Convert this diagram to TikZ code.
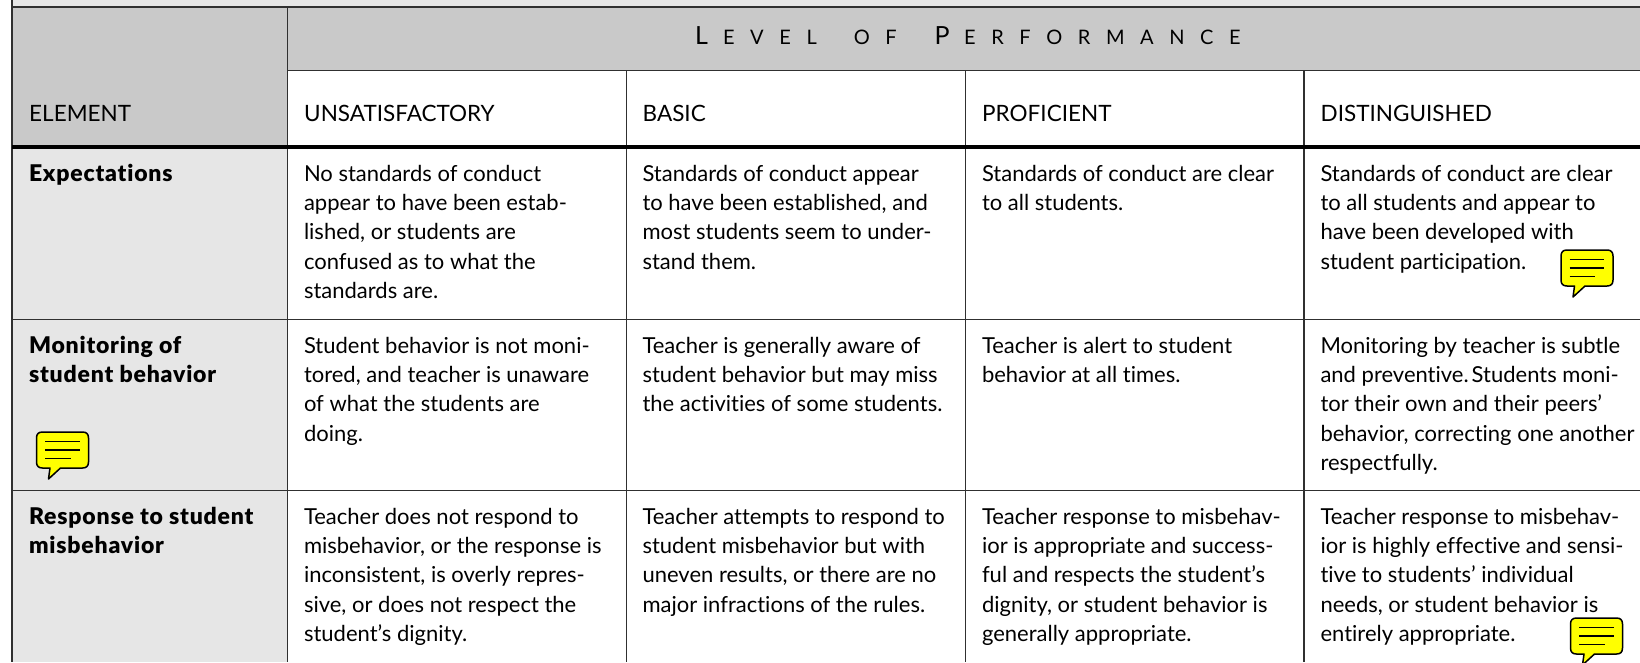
\documentclass[tikz,border=0pt]{standalone}
\usepackage{fontspec}
\setmainfont{Lato}[Ligatures=NoCommon]
\newfontfamily\elemfont{Lato Black}[Ligatures=NoCommon,LetterSpace=3.5]
\newfontfamily\titlefont[LetterSpace=78]{Lato}
\definecolor{hdr}{HTML}{C9C9C9}
\definecolor{elm}{HTML}{E6E6E6}
\definecolor{rule}{HTML}{303030}
\definecolor{bub}{HTML}{FFFF00}
\newcommand{\tbig}{\fontsize{25}{25}\selectfont}
\newcommand{\tsmall}{\fontsize{20}{25}\selectfont}
\newcommand{\fs}{\rule{0pt}{20pt}}
\tikzset{
  cellfont/.style={font=\fontsize{22}{29.4}\selectfont},
  celltext/.style={cellfont,anchor=north west,inner sep=0pt,outer sep=0pt,align=left},
  elemtext/.style={celltext,font=\elemfont\fontsize{23}{29.4}\selectfont},
  headtext/.style={font=\fontsize{22.5}{25}\selectfont,anchor=base west,inner sep=0pt},
  gridline/.style={draw=rule,line width=1.6pt},
  heavyline/.style={draw=black,line width=4pt},
  bubshape/.style={draw=black,fill=bub,line width=1.5pt,line join=round},
  bubline/.style={draw=black,line width=1.5pt},
  pics/speech/.style={code={
    \path[bubshape] (6,0) -- (46,0) .. controls (50,0) and (52,2) .. (52,6)
      -- (52,30) .. controls (52,34) and (50,36) .. (46,36)
      -- (24,36) -- (12,47) -- (13.5,36) -- (6,36)
      .. controls (2,36) and (0,34) .. (0,30) -- (0,6) .. controls (0,2) and (2,0) .. (6,0) -- cycle;
    \path[bubline] (8.5,9.5) -- (43,9.5) (8.5,18) -- (43,18) (8.5,26.5) -- (34,26.5);
  }}
}
\begin{document}
\begin{tikzpicture}[x=1pt,y=-1pt]
\useasboundingbox (0,0) rectangle (1640,662);
\begin{scope}
\clip (0,0) rectangle (1640,662);
% grid coordinates
\coordinate (TL) at (12,7);
\coordinate (TR) at (1640,7);
\coordinate (BL) at (12,662);
\coordinate (A) at (287.5,7);
\coordinate (H) at (287.5,70.5);
\coordinate (HR) at (1640,70.5);
\coordinate (E) at (12,147);
\coordinate (ER) at (1640,147);
\coordinate (R1) at (12,319.5);
\coordinate (R1R) at (1640,319.5);
\coordinate (R2) at (12,490.5);
\coordinate (R2R) at (1640,490.5);
\coordinate (AB) at (287.5,662);
\coordinate (B) at (626.5,70.5);
\coordinate (BB) at (626.5,662);
\coordinate (C) at (965.5,70.5);
\coordinate (CB) at (965.5,662);
\coordinate (D) at (1304,70.5);
\coordinate (DB) at (1304,662);
% fills
\fill[elm] (12,0) rectangle (TR);
\fill[hdr] (TL) rectangle (A |- E);
\fill[hdr] (A) rectangle (HR);
\fill[elm] (E) rectangle (AB);
\fill[white] (H) rectangle (ER);
% rules
\draw[gridline] (12,0) -- (BL);
\draw[gridline] (TL) -- (TR);
\draw[gridline] (A) -- (AB);
\draw[gridline] (H) -- (HR);
\draw[gridline] (B) -- (BB);
\draw[gridline] (C) -- (CB);
\draw[gridline] (D) -- (DB);
\draw[gridline] (R1) -- (R1R);
\draw[gridline] (R2) -- (R2R);
\draw[heavyline] (E) -- (ER);
% title
\node[anchor=base west,inner sep=0pt] (title) at (695,44)
  {\titlefont\tbig L\hspace{15pt}\tsmall EVEL\hspace{37pt}OF\hspace{38pt}\tbig P\hspace{14.5pt}\tsmall ERFORMANCE};
% headers
\node[headtext] (helem) at (29,121) {ELEMENT};
\node[headtext] (hunsat) at (304,121) {UNSATISFACTORY};
\node[headtext] (hbasic) at (642.5,121) {BASIC};
\node[headtext] (hprof) at (982,121) {PROFICIENT};
\node[headtext] (hdist) at (1320.5,121) {DISTINGUISHED};
% row 1
\node[elemtext] (e1) at (29,161) {\fs Expectations};
\node[celltext] (c11) at (304,161) {\fs No standards of conduct\\appear to have been estab-\\lished, or students are\\confused as to what the\\standards are.};
\node[celltext] (c12) at (642.5,161) {\fs Standards of conduct appear\\to have been established, and\\most students seem to under-\\stand them.};
\node[celltext] (c13) at (982,161) {\fs Standards of conduct are clear\\to all students.};
\node[celltext] (c14) at (1320.5,161) {\fs Standards of conduct are clear\\to all students and appear to\\have been developed with\\student participation.};
% row 2
\node[elemtext] (e2) at (29,333) {\fs Monitoring of\\student behavior};
\node[celltext] (c21) at (304,333) {\fs Student behavior is not moni-\\tored, and teacher is unaware\\of what the students are\\doing.};
\node[celltext] (c22) at (642.5,333) {\fs Teacher is generally aware of\\student behavior but may miss\\the activities of some students.};
\node[celltext] (c23) at (982,333) {\fs Teacher is alert to student\\behavior at all times.};
\node[celltext] (c24) at (1320.5,333) {\fs Monitoring by teacher is subtle\\and preventive.\kern3pt Students moni-\\tor their own and their peers’\\behavior, correcting one another\\respectfully.};
% row 3
\node[elemtext] (e3) at (29,504) {\fs Response to student\\misbehavior};
\node[celltext] (c31) at (304,504) {\fs Teacher does not respond to\\misbehavior, or the response is\\inconsistent, is overly repres-\\sive, or does not respect the\\student’s dignity.};
\node[celltext] (c32) at (642.5,504) {\fs Teacher attempts to respond to\\student misbehavior but with\\uneven results, or there are no\\major infractions of the rules.};
\node[celltext] (c33) at (982,504) {\fs Teacher response to misbehav-\\ior is appropriate and success-\\ful and respects the student’s\\dignity, or student behavior is\\generally appropriate.};
\node[celltext] (c34) at (1320.5,504) {\fs Teacher response to misbehav-\\ior is highly effective and sensi-\\tive to students’ individual\\needs, or student behavior is\\entirely appropriate.};
% speech bubbles
\pic at (1561,250) {speech};
\pic at (36.5,432) {speech};
\pic at (1570.5,618) {speech};
\end{scope}
\end{tikzpicture}
\end{document}
